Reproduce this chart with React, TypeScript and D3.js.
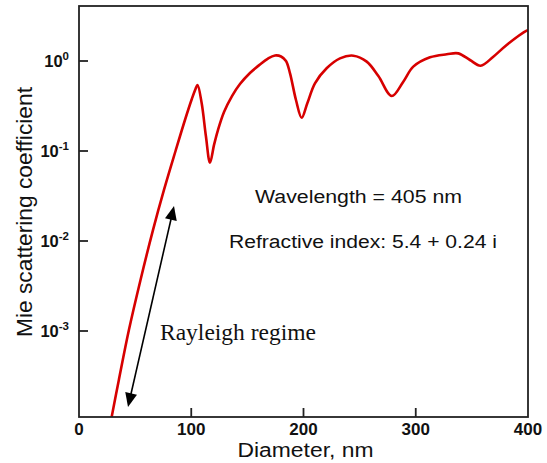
import React from "react";
import * as d3 from "d3";

const diameters = [29.1, 35.5, 44.5, 54.8, 65.9, 75.7, 86.0, 94.4, 100.5, 103.8, 105.6, 109.3, 113.1, 116.7, 120.3, 123.8, 129.2, 136.3, 143.4, 152.3, 161.2, 168.4, 174.6, 180.0, 184.4, 188.0, 193.3, 198.4, 203.4, 210.2, 220.6, 232.5, 244.4, 256.3, 266.7, 278.6, 288.9, 297.8, 312.7, 327.6, 337.9, 348.3, 357.8, 369.1, 381.0, 398.8, 400];
const mieValues = [1.11e-4, 2.86e-4, 1.03e-3, 3.69e-3, 1.32e-2, 3.69e-2, 0.1, 0.221, 0.378, 0.489, 0.541, 0.339, 0.145, 0.074, 0.117, 0.171, 0.271, 0.408, 0.555, 0.736, 0.914, 1.066, 1.151, 1.122, 1.0, 0.73, 0.369, 0.234, 0.339, 0.565, 0.83, 1.07, 1.146, 0.984, 0.681, 0.408, 0.589, 0.865, 1.099, 1.186, 1.216, 1.026, 0.887, 1.117, 1.507, 2.173, 2.2];

const xTicks = [0, 100, 200, 300, 400];
const yTicks = [1, 0.1, 0.01, 0.001];
const yExponents = ["0", "-1", "-2", "-3"];

const W = 547, H = 463;
const L = 79, R = 528, T = 6, B = 417;

export default function App() {
  const x = d3.scaleLinear().domain([0, 400]).range([L, R]);
  const y = d3.scaleLog().domain([Math.pow(10, -(B - 61) / 90), Math.pow(10, (61 - T) / 90)]).range([B, T]);
  const pts = diameters.map((d, i) => [d, mieValues[i]] as [number, number]);
  const line = d3.line<[number, number]>().x(d => x(d[0])).y(d => y(d[1])).curve(d3.curveCatmullRom.alpha(0.5));
  const sans = "'Liberation Sans', Arial, Helvetica, sans-serif";

  // arrow
  const a1 = [128, 407], a2 = [174, 206];
  const ang = Math.atan2(a2[1] - a1[1], a2[0] - a1[0]);
  const head = (tip: number[], dir: number) => {
    const len = 14, wid = 6;
    const ux = Math.cos(ang) * dir, uy = Math.sin(ang) * dir;
    const bx = tip[0] - ux * len, by = tip[1] - uy * len;
    const px = -uy, py = ux;
    return `M${tip[0]},${tip[1]}L${bx + px * wid},${by + py * wid}L${bx - px * wid},${by - py * wid}Z`;
  };
  const shrink = 12;
  const l1 = [a1[0] + Math.cos(ang) * shrink, a1[1] + Math.sin(ang) * shrink];
  const l2 = [a2[0] - Math.cos(ang) * shrink, a2[1] - Math.sin(ang) * shrink];

  return (
    <svg width={W} height={H} style={{ position: "absolute", left: 0, top: 0, background: "#fff" }}>
      <defs>
        <clipPath id="plotclip">
          <rect x={L} y={T} width={R - L} height={B - T} />
        </clipPath>
      </defs>
      <rect width={W} height={H} fill="#fff" />
      <path d={line(pts) || ""} fill="none" stroke="#d70000" strokeWidth={2.6} strokeLinejoin="round" clipPath="url(#plotclip)" />
      {/* frame */}
      <rect x={L} y={T} width={R - L} height={B - T} fill="none" stroke="#222" strokeWidth={1.8} />
      {/* y ticks */}
      {yTicks.map((t, i) => (
        <g key={"y" + i}>
          <line x1={L} x2={L + 9} y1={y(t)} y2={y(t)} stroke="#222" strokeWidth={1.8} />
          <text x={69} y={y(t) + 6} textAnchor="end" fontFamily={sans} fontWeight="bold" fontSize={16.5} fill="#111">
            10<tspan fontSize={11.5} dy={-7}>{yExponents[i]}</tspan>
          </text>
        </g>
      ))}
      {/* x ticks */}
      {xTicks.map((t, i) => (
        <g key={"x" + i}>
          {t > 0 && t < 400 && <line x1={x(t)} x2={x(t)} y1={B} y2={B - 9} stroke="#222" strokeWidth={1.8} />}
          <text x={x(t)} y={435} textAnchor="middle" fontFamily={sans} fontWeight="bold" fontSize={17} fill="#111">{t}</text>
        </g>
      ))}
      <text x={(L + R) / 2 + 2} y={457} textAnchor="middle" fontFamily={sans} fontSize={19.5} textLength={136} lengthAdjust="spacingAndGlyphs" fill="#111">Diameter, nm</text>
      <text transform={`translate(32,212) rotate(-90)`} textAnchor="middle" fontFamily={sans} fontSize={22} textLength={250} lengthAdjust="spacingAndGlyphs" fill="#111">Mie scattering coefficient</text>
      <text x={255} y={203} fontFamily={sans} fontSize={18} textLength={207} lengthAdjust="spacingAndGlyphs" fill="#111">Wavelength = 405 nm</text>
      <text x={229} y={248} fontFamily={sans} fontSize={18} textLength={268} lengthAdjust="spacingAndGlyphs" fill="#111">Refractive index: 5.4 + 0.24 i</text>
      <text x={160} y={340} fontFamily="'Liberation Serif', 'Times New Roman', serif" fontSize={23.5} fill="#111">Rayleigh regime</text>
      <line x1={l1[0]} y1={l1[1]} x2={l2[0]} y2={l2[1]} stroke="#000" strokeWidth={1.6} />
      <path d={head(a2, 1)} fill="#000" />
      <path d={head(a1, -1)} fill="#000" />
    </svg>
  );
}
